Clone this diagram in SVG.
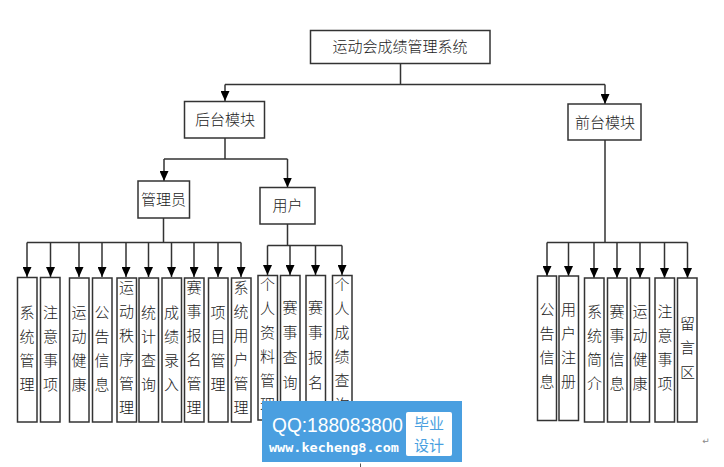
<svg xmlns="http://www.w3.org/2000/svg" width="724" height="467" viewBox="0 0 724 467">
<style>
.b{fill:#fff;stroke:#333;stroke-width:1.5}
.t{font-family:"Noto Sans CJK SC","Noto Sans",sans-serif;font-size:15px;fill:#222;font-weight:300;text-anchor:middle}
.c{fill:none;stroke:#333;stroke-width:1.5}
.c .d{marker-end:url(#ad)}
</style>
<defs>
<marker id="ad" markerUnits="userSpaceOnUse" markerWidth="10" markerHeight="9" refX="10" refY="4.500" orient="auto" viewBox="0 0 10 9"><path d="M0 0L10 4.500L0 9Z" fill="#000"/></marker>
</defs>
<rect width="724" height="467" fill="#fff"/>
<g id="connectors" class="c">
<path d="M400.500 63V84.500M225 84.500H605"/>
<path class="d" d="M225 84.500V101"/>
<path class="d" d="M605 84.500V104"/>
<path d="M225 138V159M164 159H287.500"/>
<path class="d" d="M164 159V181"/>
<path class="d" d="M287.500 159V187.500"/>
<path d="M163.500 218V242.500M27 242.500H241"/>
<path class="d" d="M27 242.500V277"/>
<path class="d" d="M50.500 242.500V277"/>
<path class="d" d="M79 242.500V277"/>
<path class="d" d="M102 242.500V277"/>
<path class="d" d="M126 242.500V277"/>
<path class="d" d="M148.500 242.500V277"/>
<path class="d" d="M171.500 242.500V277"/>
<path class="d" d="M194 242.500V277"/>
<path class="d" d="M218 242.500V277"/>
<path class="d" d="M241 242.500V277"/>
<path d="M287.500 224V245.500M267.500 245.500H342"/>
<path class="d" d="M267.500 245.500V275"/>
<path class="d" d="M290 245.500V275"/>
<path class="d" d="M315.500 245.500V275"/>
<path class="d" d="M342 245.500V275"/>
<path d="M605 140V242.500M547 242.500H687.500"/>
<path class="d" d="M547 242.500V276"/>
<path class="d" d="M568.500 242.500V276"/>
<path class="d" d="M594 242.500V278"/>
<path class="d" d="M617 242.500V278"/>
<path class="d" d="M640 242.500V278"/>
<path class="d" d="M664.500 242.500V278"/>
<path class="d" d="M687.500 242.500V278"/>
</g>
<g id="root"><rect class="b" x="310.500" y="30.500" width="179.500" height="33"/><text class="t" x="400" y="52">运动会成绩管理系统</text></g>
<g id="backend"><rect class="b" x="184.500" y="101.500" width="80" height="36.500"/><text class="t" x="225" y="125">后台模块</text></g>
<g id="frontend"><rect class="b" x="568" y="104" width="73" height="36"/><text class="t" x="605" y="127.500">前台模块</text></g>
<g id="admin"><rect class="b" x="138" y="181" width="51.500" height="37"/><text class="t" x="163.500" y="205">管理员</text></g>
<g id="user"><rect class="b" x="260" y="187.500" width="55" height="36.500"/><text class="t" x="287.500" y="211">用户</text></g>
<g id="a1"><rect class="b" x="17.500" y="277.500" width="19.500" height="144.500"/><text class="t"><tspan x="27" y="318">系</tspan><tspan x="27" dy="24">统</tspan><tspan x="27" dy="24">管</tspan><tspan x="27" dy="24">理</tspan></text></g>
<g id="a2"><rect class="b" x="40.500" y="277.500" width="19.500" height="144.500"/><text class="t"><tspan x="50.500" y="318">注</tspan><tspan x="50.500" dy="24">意</tspan><tspan x="50.500" dy="24">事</tspan><tspan x="50.500" dy="24">项</tspan></text></g>
<g id="a3"><rect class="b" x="69.500" y="278" width="19.500" height="144"/><text class="t"><tspan x="79" y="318">运</tspan><tspan x="79" dy="24">动</tspan><tspan x="79" dy="24">健</tspan><tspan x="79" dy="24">康</tspan></text></g>
<g id="a4"><rect class="b" x="92.500" y="278" width="19.500" height="144"/><text class="t"><tspan x="102" y="318">公</tspan><tspan x="102" dy="24">告</tspan><tspan x="102" dy="24">信</tspan><tspan x="102" dy="24">息</tspan></text></g>
<g id="a5"><rect class="b" x="117" y="278" width="19.500" height="144"/><text class="t"><tspan x="126.500" y="293">运</tspan><tspan x="126.500" dy="24">动</tspan><tspan x="126.500" dy="24">秩</tspan><tspan x="126.500" dy="24">序</tspan><tspan x="126.500" dy="24">管</tspan><tspan x="126.500" dy="24">理</tspan></text></g>
<g id="a6"><rect class="b" x="139" y="278" width="19.500" height="144"/><text class="t"><tspan x="148.500" y="318">统</tspan><tspan x="148.500" dy="24">计</tspan><tspan x="148.500" dy="24">查</tspan><tspan x="148.500" dy="24">询</tspan></text></g>
<g id="a7"><rect class="b" x="162" y="278" width="19.500" height="144"/><text class="t"><tspan x="171.500" y="318">成</tspan><tspan x="171.500" dy="24">绩</tspan><tspan x="171.500" dy="24">录</tspan><tspan x="171.500" dy="24">入</tspan></text></g>
<g id="a8"><rect class="b" x="184.500" y="278" width="19.500" height="144"/><text class="t"><tspan x="194" y="293">赛</tspan><tspan x="194" dy="24">事</tspan><tspan x="194" dy="24">报</tspan><tspan x="194" dy="24">名</tspan><tspan x="194" dy="24">管</tspan><tspan x="194" dy="24">理</tspan></text></g>
<g id="a9"><rect class="b" x="208.500" y="278" width="19.500" height="144"/><text class="t"><tspan x="218" y="318">项</tspan><tspan x="218" dy="24">目</tspan><tspan x="218" dy="24">管</tspan><tspan x="218" dy="24">理</tspan></text></g>
<g id="a10"><rect class="b" x="231.500" y="278" width="19.500" height="144"/><text class="t"><tspan x="241" y="293">系</tspan><tspan x="241" dy="24">统</tspan><tspan x="241" dy="24">用</tspan><tspan x="241" dy="24">户</tspan><tspan x="241" dy="24">管</tspan><tspan x="241" dy="24">理</tspan></text></g>
<g id="u1"><rect class="b" x="258" y="275.500" width="19.500" height="144.500"/><text class="t"><tspan x="267.500" y="290">个</tspan><tspan x="267.500" dy="24">人</tspan><tspan x="267.500" dy="24">资</tspan><tspan x="267.500" dy="24">料</tspan><tspan x="267.500" dy="24">管</tspan><tspan x="267.500" dy="24">理</tspan></text></g>
<g id="u2"><rect class="b" x="280.500" y="275.500" width="19.500" height="144.500"/><text class="t"><tspan x="290" y="313">赛</tspan><tspan x="290" dy="25">事</tspan><tspan x="290" dy="25">查</tspan><tspan x="290" dy="25">询</tspan></text></g>
<g id="u3"><rect class="b" x="306" y="275.500" width="19.500" height="144.500"/><text class="t"><tspan x="315.500" y="313">赛</tspan><tspan x="315.500" dy="25">事</tspan><tspan x="315.500" dy="25">报</tspan><tspan x="315.500" dy="25">名</tspan></text></g>
<g id="u4"><rect class="b" x="332.500" y="275.500" width="19.500" height="144.500"/><text class="t"><tspan x="342" y="290">个</tspan><tspan x="342" dy="24">人</tspan><tspan x="342" dy="24">成</tspan><tspan x="342" dy="24">绩</tspan><tspan x="342" dy="24">查</tspan><tspan x="342" dy="24">询</tspan></text></g>
<g id="f1"><rect class="b" x="537.500" y="276" width="19" height="144.500"/><text class="t"><tspan x="547" y="315">公</tspan><tspan x="547" dy="24">告</tspan><tspan x="547" dy="24">信</tspan><tspan x="547" dy="24">息</tspan></text></g>
<g id="f2"><rect class="b" x="559" y="276" width="19.500" height="144.500"/><text class="t"><tspan x="568.500" y="315">用</tspan><tspan x="568.500" dy="24">户</tspan><tspan x="568.500" dy="24">注</tspan><tspan x="568.500" dy="24">册</tspan></text></g>
<g id="f3"><rect class="b" x="584.500" y="278" width="19.500" height="144"/><text class="t"><tspan x="594.500" y="317">系</tspan><tspan x="594.500" dy="24">统</tspan><tspan x="594.500" dy="24">简</tspan><tspan x="594.500" dy="24">介</tspan></text></g>
<g id="f4"><rect class="b" x="607.500" y="278" width="19.500" height="144"/><text class="t"><tspan x="617" y="317">赛</tspan><tspan x="617" dy="24">事</tspan><tspan x="617" dy="24">信</tspan><tspan x="617" dy="24">息</tspan></text></g>
<g id="f5"><rect class="b" x="630.500" y="278" width="19" height="144"/><text class="t"><tspan x="640" y="317">运</tspan><tspan x="640" dy="24">动</tspan><tspan x="640" dy="24">健</tspan><tspan x="640" dy="24">康</tspan></text></g>
<g id="f6"><rect class="b" x="655" y="278" width="19.500" height="144"/><text class="t"><tspan x="665" y="317">注</tspan><tspan x="665" dy="24">意</tspan><tspan x="665" dy="24">事</tspan><tspan x="665" dy="24">项</tspan></text></g>
<g id="f7"><rect class="b" x="677.500" y="278" width="19.500" height="144"/><text class="t"><tspan x="687.500" y="329">留</tspan><tspan x="687.500" dy="24">言</tspan><tspan x="687.500" dy="25">区</tspan></text></g>
<text x="706" y="444" style="font-family:'DejaVu Sans',sans-serif;font-size:9px;fill:#888;text-anchor:middle">↵</text>
<path d="M360.500 463.500V467" stroke="#555" stroke-width="1" fill="none"/>
<g id="watermark">
<rect x="262" y="401" width="200" height="61" fill="#4a9fe0"/>
<rect x="406" y="412" width="46" height="44" rx="2" fill="#fff"/>
<text x="272" y="432" textLength="131" lengthAdjust="spacingAndGlyphs" style="font-family:'Liberation Sans',sans-serif;font-size:21px;fill:#fff">QQ:188083800</text>
<text x="269" y="452" textLength="130" lengthAdjust="spacingAndGlyphs" style="font-family:'DejaVu Sans Mono',monospace;font-size:13px;fill:#fff;font-weight:700">www.kecheng8.com</text>
<text style="font-family:'Noto Sans CJK SC',sans-serif;font-size:15px;fill:#4a9fe0;text-anchor:middle"><tspan x="429" y="429">毕业</tspan><tspan x="429" dy="22">设计</tspan></text>
</g>
</svg>
